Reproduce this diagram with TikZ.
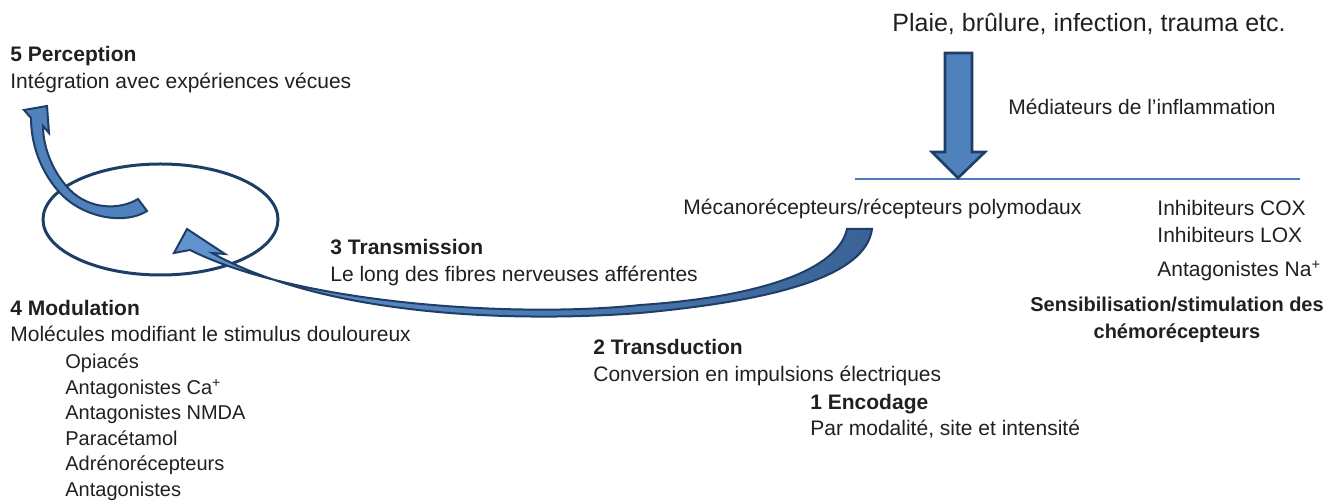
\documentclass[tikz,border=0pt]{standalone}
\usepackage{fontspec}
\setmainfont{Liberation Sans}
\usepackage{tikz}

\definecolor{bleuFleche}{RGB}{79,129,189}
\definecolor{bleuClair}{RGB}{98,148,208}
\definecolor{bleuSombre}{RGB}{58,98,150}
\definecolor{bleuFonce}{RGB}{30,62,102}
\definecolor{bleuTrait}{RGB}{74,126,187}
\definecolor{texte}{RGB}{35,31,32}

\tikzset{
    txt/.style={anchor=base west, inner sep=0pt, text=texte, font=\fontsize{10.5}{12}\selectfont},
    titre/.style={txt, font=\bfseries\fontsize{10.5}{12}\selectfont},
    liste/.style={txt, font=\fontsize{10}{12}\selectfont},
    fleche/.style={draw=bleuFonce, line width=1pt, fill=bleuFleche, line join=miter}
}

\begin{document}
\begin{tikzpicture}[x=0.5pt, y=-0.5pt]
    \useasboundingbox (0,0) rectangle (1327,501);

    % Stimulus et médiateurs
    \node[txt, font=\fontsize{12.5}{15}\selectfont] (causes) at (892,32) {Plaie, brûlure, infection, trauma etc.};
    \node[txt] (mediateurs) at (1008,115) {Médiateurs de l’inflammation};
    \coordinate (L1) at (855,179);
    \coordinate (L2) at (1300,179);
    \draw[bleuTrait, line width=0.75pt] (L1) -- (L2);
    \draw[fleche, line width=1.3pt] (945,53) -- (972,53) -- (972,152) -- (985,152)
        -- (958,178) -- (932,152) -- (945,152) -- cycle;

    % Récepteurs
    \node[txt] (recepteurs) at (683,215) {Mécanorécepteurs/récepteurs polymodaux};
    \node[txt] (cox) at (1157,216) {Inhibiteurs COX};
    \node[txt] (lox) at (1157,243) {Inhibiteurs LOX};
    \node[txt] (na) at (1157,277) {Antagonistes Na\textsuperscript{+}};
    \node[txt, anchor=base, align=center, font=\bfseries\fontsize{10}{13.5}\selectfont] (sensib) at (1177,339)
        {Sensibilisation/stimulation des\\chémorécepteurs};

    % Étapes
    \node[titre] (perception) at (10,62) {5 Perception};
    \node[txt] (integration) at (10,89) {Intégration avec expériences vécues};
    \node[titre] (transmission) at (330,255) {3 Transmission};
    \node[txt] (fibres) at (330,282) {Le long des fibres nerveuses afférentes};
    \node[titre] (modulation) at (10,316) {4 Modulation};
    \node[txt] (molecules) at (10,342) {Molécules modifiant le stimulus douloureux};
    \node[titre] (transduction) at (593,355) {2 Transduction};
    \node[txt] (conversion) at (593,382) {Conversion en impulsions électriques};
    \node[titre] (encodage) at (810,410) {1 Encodage};
    \node[txt] (modalite) at (810,436) {Par modalité, site et intensité};

    \foreach \m [count=\i from 0] in {Opiacés, Antagonistes Ca\textsuperscript{+}, Antagonistes NMDA,
        Paracétamol, Adrénorécepteurs, Antagonistes} {
        \node[liste] (mol\i) at (65,369+25.5*\i) {\m};
    }

    % Ellipse centrale
    \draw[bleuFonce, line width=1.5pt] (160.5,219.5) ellipse [x radius=117.5, y radius=55.5];

    % Flèche de transmission
    \draw[fleche, left color=bleuClair, right color=bleuSombre]
        (872,229) .. controls (866,275) and (780,300) .. (640,313)
        .. controls (520,322) and (330,318) .. (212,253)
        -- (225,254) -- (187,229) -- (174,253) -- (190,250)
        .. controls (300,305) and (520,318) .. (640,305)
        .. controls (760,297) and (838,270) .. (847,229) -- cycle;

    % Flèche de perception
    \draw[fleche]
        (147,211) .. controls (125,225) and (85,218) .. (62,195)
        .. controls (45,178) and (31,150) .. (31,118)
        -- (24,110) -- (47,106) -- (49,133) -- (43,126)
        .. controls (43,150) and (55,175) .. (70,190)
        .. controls (90,210) and (120,210) .. (138,199) -- cycle;
\end{tikzpicture}
\end{document}
